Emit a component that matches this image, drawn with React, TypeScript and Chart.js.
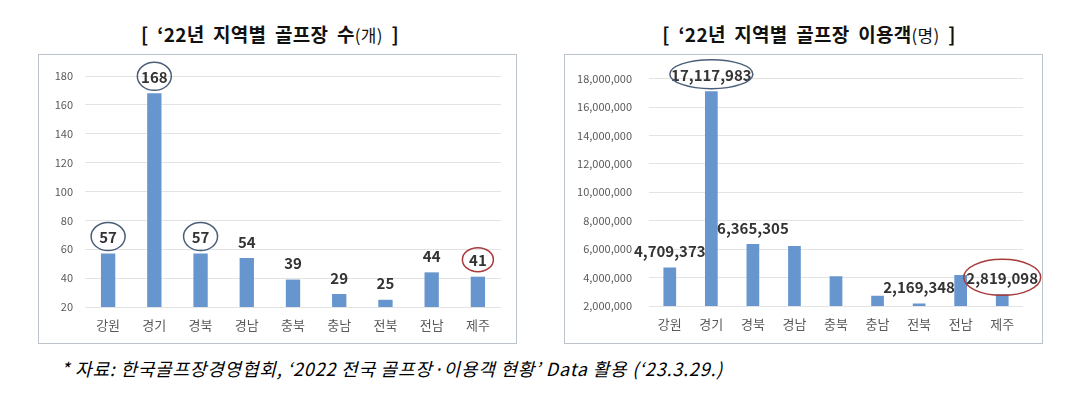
import React, { useEffect, useRef } from "react";
import { Chart, registerables } from "chart.js";

Chart.register(...registerables);

const FONT = '"Noto Sans CJK KR", "Noto Sans", sans-serif';

// ---- Data ----
const regions = ["강원", "경기", "경북", "경남", "충북", "충남", "전북", "전남", "제주"];
const courseCounts = [57, 168, 57, 54, 39, 29, 25, 44, 41];
const visitorCounts = [4709373, 17117983, 6365305, 6230000, 4100000, 2720000, 2169348, 4180000, 2819098];
const countTicks = [20, 40, 60, 80, 100, 120, 140, 160, 180];
const visitorTicks = [2000000, 4000000, 6000000, 8000000, 10000000, 12000000, 14000000, 16000000, 18000000];
const countLabelShown = [true, true, true, true, true, true, true, true, true];
const visitorLabelShown = [true, true, true, false, false, false, true, false, true];
const countBlueCircled = ["강원", "경기", "경북"];
const countRedCircled = ["제주"];
const visitorBlueCircled = ["경기"];
const visitorRedCircled = ["제주"];

const fmt = (v: number) => v.toLocaleString("en-US");

const BAR = "#6796CE";
const BLUE_RING = "#4A5E78";
const RED_RING = "#A83A3A";

type Ring = { rx: number; ry: number; color: string };

function labelPlugin(show: boolean[], rings: Record<string, Ring>, fontSize: number, offset: number) {
  return {
    id: "valueLabels",
    afterDatasetsDraw(chart: any) {
      const meta = chart.getDatasetMeta(0);
      const ctx = chart.ctx;
      ctx.save();
      ctx.font = `bold ${fontSize}px ${FONT}`;
      ctx.fillStyle = "#333333";
      ctx.textAlign = "center";
      ctx.textBaseline = "middle";
      meta.data.forEach((bar: any, i: number) => {
        if (!show[i]) return;
        const v = chart.data.datasets[0].data[i] as number;
        const x = bar.x;
        const y = bar.y - offset;
        ctx.fillText(fmt(v), x, y + 1);
        const r = rings[chart.data.labels[i]];
        if (r) {
          ctx.beginPath();
          ctx.ellipse(x, y, r.rx, r.ry, 0, 0, Math.PI * 2);
          ctx.strokeStyle = r.color;
          ctx.lineWidth = 1.5;
          ctx.stroke();
        }
      });
      ctx.restore();
    },
  };
}

function makeChart(
  canvas: HTMLCanvasElement,
  values: number[],
  ticks: number[],
  yWidth: number,
  yPad: number,
  xHeight: number,
  padTop: number,
  padRight: number,
  barPct: number,
  plugin: any
) {
  return new Chart(canvas, {
    type: "bar",
    data: {
      labels: regions,
      datasets: [
        {
          data: values,
          backgroundColor: BAR,
          borderWidth: 0,
          barPercentage: barPct,
          categoryPercentage: 1,
        },
      ],
    },
    options: {
      responsive: false,
      animation: false,
      devicePixelRatio: 1,
      layout: { padding: { top: padTop, right: padRight, bottom: 0, left: 0 } },
      plugins: { legend: { display: false }, tooltip: { enabled: false }, title: { display: false } },
      scales: {
        x: {
          grid: { display: false, drawTicks: false },
          border: { display: false },
          ticks: { color: "#595959", font: { family: FONT, size: 13 }, padding: 10 },
          afterFit: (s: any) => {
            s.height = xHeight;
          },
        },
        y: {
          min: ticks[0],
          max: ticks[ticks.length - 1],
          grid: { color: "#E3E3E3", drawTicks: false, lineWidth: 1 },
          border: { display: false },
          afterBuildTicks: (s: any) => {
            s.ticks = ticks.map((v) => ({ value: v }));
          },
          ticks: {
            color: "#595959",
            font: { family: FONT, size: 11 },
            padding: yPad,
            callback: (v: any) => fmt(Number(v)),
          },
          afterFit: (s: any) => {
            s.width = yWidth;
          },
        },
      },
    },
    plugins: [plugin],
  } as any);
}

export default function App() {
  const leftRef = useRef<HTMLCanvasElement>(null);
  const rightRef = useRef<HTMLCanvasElement>(null);

  useEffect(() => {
    const leftRings: Record<string, Ring> = {};
    countBlueCircled.forEach((k) => (leftRings[k] = { rx: 17, ry: 14, color: BLUE_RING }));
    countRedCircled.forEach((k) => (leftRings[k] = { rx: 15.5, ry: 12, color: RED_RING }));
    const rightRings: Record<string, Ring> = {};
    visitorBlueCircled.forEach((k) => (rightRings[k] = { rx: 41.5, ry: 14.5, color: BLUE_RING }));
    visitorRedCircled.forEach((k) => (rightRings[k] = { rx: 38.5, ry: 18, color: RED_RING }));

    const c1 = makeChart(leftRef.current!, courseCounts, countTicks, 46, 12, 36, 21, 15, 0.31,
      labelPlugin(countLabelShown, leftRings, 15, 17));
    const c2 = makeChart(rightRef.current!, visitorCounts, visitorTicks, 84, 17, 37, 20, 19, 0.306,
      labelPlugin(visitorLabelShown, rightRings, 15, 17));
    return () => {
      c1.destroy();
      c2.destroy();
    };
  }, []);

  const box = (left: number): React.CSSProperties => ({
    position: "absolute",
    left,
    top: 54,
    width: 477,
    height: 288,
    border: "1px solid #BCC3CB",
  });

  const titleStyle = (cx: number): React.CSSProperties => ({
    position: "absolute",
    left: cx - 200,
    width: 400,
    top: 21,
    textAlign: "center",
    fontFamily: FONT,
    fontWeight: 700,
    fontSize: 19,
    lineHeight: "26px",
    wordSpacing: 4,
    letterSpacing: 0.3,
    color: "#111",
    whiteSpace: "nowrap",
  });

  return (
    <div style={{ position: "absolute", left: 0, top: 0, width: 1079, height: 397, background: "#fff", overflow: "hidden" }}>
      <div style={titleStyle(270)}>
        [ ‘22년 지역별 골프장 수<span style={{ fontWeight: 400, fontSize: 17 }}>(개)</span> ]
      </div>
      <div style={titleStyle(809)}>
        [ ‘22년 지역별 골프장 이용객<span style={{ fontWeight: 400, fontSize: 17 }}>(명)</span> ]
      </div>
      <div style={box(38)}>
        <canvas ref={leftRef} width={477} height={288} style={{ display: "block", width: 477, height: 288 }} />
      </div>
      <div style={box(564)}>
        <canvas ref={rightRef} width={477} height={288} style={{ display: "block", width: 477, height: 288 }} />
      </div>
      <div
        style={{
          position: "absolute",
          left: 61,
          top: 356,
          fontFamily: FONT,
          fontStyle: "italic",
          fontWeight: 400,
          fontSize: 18,
          letterSpacing: 0.8,
          lineHeight: "24px",
          color: "#000",
          whiteSpace: "nowrap",
        }}
      >
        * 자료: 한국골프장경영협회, ‘2022 전국 골프장·이용객 현황’ Data 활용 (‘23.3.29.)
      </div>
    </div>
  );
}
